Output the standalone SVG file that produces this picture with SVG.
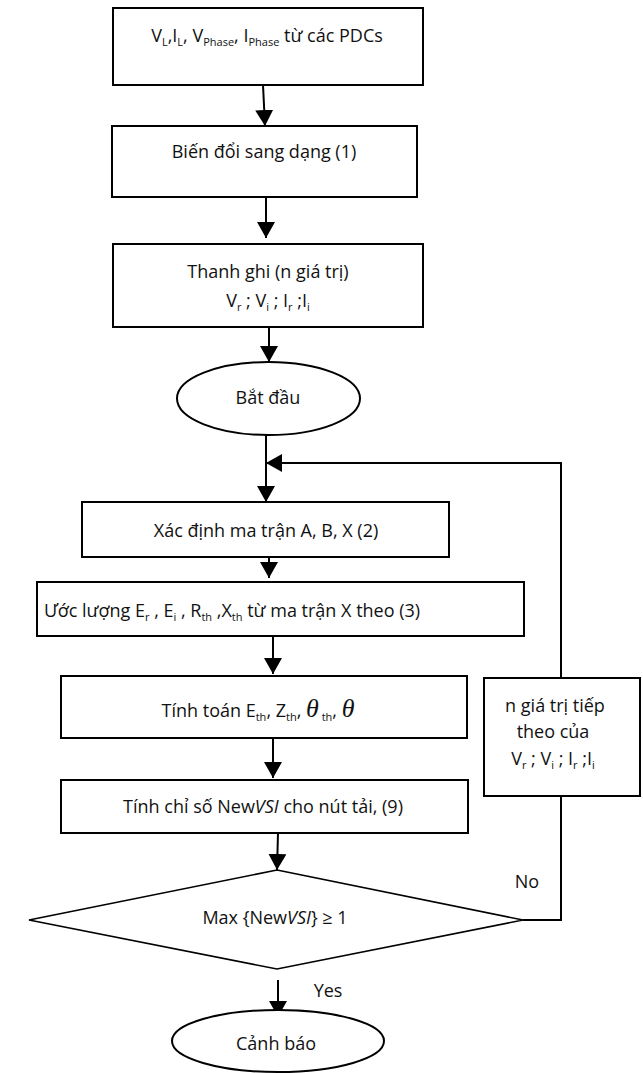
<svg xmlns="http://www.w3.org/2000/svg" width="643" height="1073" viewBox="0 0 643 1073">
<style>
.box{fill:#fff;stroke:#000;stroke-width:2}
.ln{fill:none;stroke:#000;stroke-width:2}
.t{font-family:"Open Sans","Noto Sans","DejaVu Sans",sans-serif;font-size:18px;fill:#111;text-anchor:middle}
.th{font-family:"Liberation Serif","DejaVu Serif",serif;font-style:italic;font-size:26px}
.s{font-size:11px}
</style>
<defs>
<marker id="ahs" markerWidth="16" markerHeight="18" refX="16" refY="9" orient="auto" markerUnits="userSpaceOnUse">
<path d="M0,0 L16,9 L0,18 Z" fill="#000"/>
</marker>
</defs>
<g id="connectors">
<line class="ln" x1="263" y1="85" x2="265" y2="126" marker-end="url(#ahs)"/>
<line class="ln" x1="266" y1="197" x2="266" y2="238" marker-end="url(#ahs)"/>
<line class="ln" x1="269" y1="327" x2="269" y2="362" marker-end="url(#ahs)"/>
<line class="ln" x1="266" y1="435" x2="266" y2="502" marker-end="url(#ahs)"/>
<line class="ln" x1="269" y1="549" x2="269" y2="578" marker-end="url(#ahs)"/>
<line class="ln" x1="273" y1="636" x2="273" y2="674" marker-end="url(#ahs)"/>
<line class="ln" x1="273" y1="738" x2="273" y2="778" marker-end="url(#ahs)"/>
<line class="ln" x1="278" y1="833" x2="277" y2="870" marker-end="url(#ahs)"/>
<line class="ln" x1="278" y1="980" x2="278" y2="1017" marker-end="url(#ahs)"/>
<polyline class="ln" points="523,920 561,920 561,796"/>
<polyline class="ln" points="561,678 561,463 266,463" marker-end="url(#ahs)"/>
</g>
<g id="n1"><rect class="box" x="113" y="8" width="310" height="77"/>
<text class="t" x="267" y="42">V<tspan class="s" dy="4">L</tspan><tspan dy="-4">,I</tspan><tspan class="s" dy="4">L</tspan><tspan dy="-4">, V</tspan><tspan class="s" dy="4">Phase</tspan><tspan dy="-4">, I</tspan><tspan class="s" dy="4">Phase</tspan><tspan dy="-4"> từ các PDCs</tspan></text></g>
<g id="n2"><rect class="box" x="112" y="126" width="305" height="71"/>
<text class="t" x="264" y="158">Biến đổi sang dạng (1)</text></g>
<g id="n3"><rect class="box" x="113" y="244" width="310" height="83"/>
<text class="t" x="268" y="278">Thanh ghi (n giá trị)</text>
<text class="t" x="268" y="307">V<tspan class="s" dy="4">r</tspan><tspan dy="-4"> ; V</tspan><tspan class="s" dy="4">i</tspan><tspan dy="-4"> ; I</tspan><tspan class="s" dy="4">r</tspan><tspan dy="-4"> ;I</tspan><tspan class="s" dy="4">i</tspan></text></g>
<g id="n4"><ellipse class="box" cx="268.5" cy="398.5" rx="91.5" ry="36.5"/>
<text class="t" x="268" y="404">Bắt đầu</text></g>
<g id="n5"><rect class="box" x="82" y="502" width="367" height="55"/>
<text class="t" x="266" y="537">Xác định ma trận A, B, X (2)</text></g>
<g id="n6"><rect class="box" x="37" y="582" width="487" height="54"/>
<text class="t" x="232" y="617">Ước lượng E<tspan class="s" dy="4">r</tspan><tspan dy="-4"> , E</tspan><tspan class="s" dy="4">i</tspan><tspan dy="-4"> , R</tspan><tspan class="s" dy="4">th</tspan><tspan dy="-4"> ,X</tspan><tspan class="s" dy="4">th</tspan><tspan dy="-4"> từ ma trận X theo (3)</tspan></text></g>
<g id="n7"><rect class="box" x="61" y="676" width="406" height="62"/>
<text class="t" x="258" y="717">Tính toán E<tspan class="s" dy="4">th</tspan><tspan dy="-4">, Z</tspan><tspan class="s" dy="4">th</tspan><tspan dy="-4">,  </tspan><tspan class="th">θ</tspan><tspan class="s" dy="4"> th</tspan><tspan dy="-4">, </tspan><tspan class="th">θ</tspan></text></g>
<g id="n8"><rect class="box" x="61" y="780" width="407" height="53"/>
<text class="t" x="263" y="813">Tính chỉ số New<tspan font-style="italic">VSI</tspan> cho nút tải,  (9)</text></g>
<g id="n9"><rect class="box" x="484" y="678" width="156" height="118"/>
<text class="t" x="555" y="712">n giá trị tiếp</text>
<text class="t" x="553" y="738">theo của</text>
<text class="t" x="553" y="765">V<tspan class="s" dy="4">r</tspan><tspan dy="-4"> ; V</tspan><tspan class="s" dy="4">i</tspan><tspan dy="-4"> ; I</tspan><tspan class="s" dy="4">r</tspan><tspan dy="-4"> ;I</tspan><tspan class="s" dy="4">i</tspan></text></g>
<g id="n10"><polygon class="box" style="stroke-width:1.6" points="277,870 523,920 277,969 29,920"/>
<text class="t" x="275" y="924">Max {New<tspan font-style="italic">VSI</tspan>} ≥ 1</text></g>
<g id="n11"><ellipse class="box" cx="278" cy="1041" rx="106" ry="31"/>
<text class="t" x="276" y="1050">Cảnh báo</text></g>
<text class="t" x="527" y="888">No</text>
<text class="t" x="328" y="997">Yes</text>
</svg>
